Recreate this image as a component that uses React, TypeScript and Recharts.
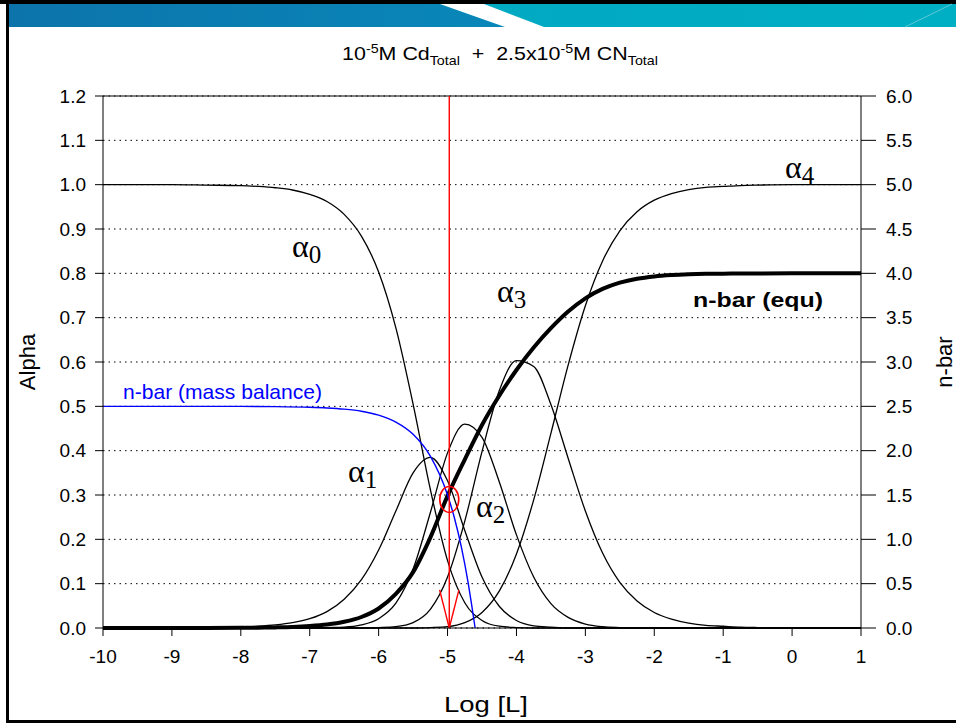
import React from "react";
import { LineChart, Line, XAxis, YAxis, CartesianGrid, ReferenceLine, ReferenceDot } from "recharts";

// log of free ligand concentration, shared by the alpha / n-bar (equ) series
const logL = [-10, -9.5, -9, -8.5, -8, -7.75, -7.5, -7.25, -7, -6.75, -6.5, -6.25, -6, -5.75, -5.5, -5.25, -5, -4.75, -4.5, -4.25, -4, -3.75, -3.5, -3.25, -3, -2.75, -2.5, -2.25, -2, -1.75, -1.5, -1.25, -1, -0.75, -0.5, 0, 0.5, 1];

const alpha0 = [1, 1, 1, 0.999, 0.998, 0.996, 0.993, 0.988, 0.978, 0.962, 0.933, 0.884, 0.803, 0.677, 0.505, 0.313, 0.152, 0.057, 0.017, 0.004, 0.001, 0, 0, 0, 0, 0, 0, 0, 0, 0, 0, 0, 0, 0, 0, 0, 0, 0];
const alpha1 = [0, 0, 0, 0.001, 0.002, 0.004, 0.007, 0.012, 0.021, 0.037, 0.065, 0.109, 0.176, 0.264, 0.35, 0.385, 0.332, 0.22, 0.115, 0.049, 0.017, 0.005, 0.002, 0, 0, 0, 0, 0, 0, 0, 0, 0, 0, 0, 0, 0, 0, 0];
const alpha2 = [0, 0, 0, 0, 0, 0, 0, 0, 0, 0.001, 0.002, 0.007, 0.021, 0.056, 0.133, 0.26, 0.395, 0.46, 0.43, 0.33, 0.21, 0.115, 0.055, 0.024, 0.009, 0.003, 0.001, 0, 0, 0, 0, 0, 0, 0, 0, 0, 0, 0];
const alpha3 = [0, 0, 0, 0, 0, 0, 0, 0, 0, 0, 0, 0, 0.001, 0.003, 0.012, 0.042, 0.115, 0.241, 0.398, 0.535, 0.603, 0.59, 0.504, 0.383, 0.264, 0.169, 0.103, 0.061, 0.035, 0.02, 0.011, 0.006, 0.004, 0.002, 0.001, 0, 0, 0];
const alpha4 = [0, 0, 0, 0, 0, 0, 0, 0, 0, 0, 0, 0, 0, 0, 0, 0.001, 0.003, 0.012, 0.035, 0.083, 0.167, 0.289, 0.439, 0.593, 0.727, 0.828, 0.896, 0.939, 0.965, 0.98, 0.989, 0.994, 0.996, 0.998, 0.999, 1, 1, 1];
const nbarEqu = [0, 0, 0, 0.001, 0.002, 0.004, 0.007, 0.012, 0.022, 0.039, 0.07, 0.124, 0.22, 0.385, 0.63, 1.02, 1.49, 1.9, 2.29, 2.62, 2.91, 3.163, 3.381, 3.569, 3.718, 3.824, 3.895, 3.939, 3.965, 3.98, 3.989, 3.994, 3.996, 3.998, 3.999, 4, 4, 4];

// n-bar from the mass balance, ends where it reaches zero
const mbLogL = [-10, -9, -8, -7.5, -7, -6.75, -6.5, -6.25, -6, -5.75, -5.5, -5.25, -5, -4.9, -4.8, -4.7, -4.65, -4.6];
const nbarMassBalance = [2.5, 2.5, 2.499, 2.497, 2.49, 2.482, 2.468, 2.444, 2.4, 2.322, 2.184, 1.938, 1.5, 1.241, 0.915, 0.505, 0.261, 0];

const xTicks = [-10, -9, -8, -7, -6, -5, -4, -3, -2, -1, 0, 1];
const alphaTicks = [0, 0.1, 0.2, 0.3, 0.4, 0.5, 0.6, 0.7, 0.8, 0.9, 1.0, 1.1, 1.2];
const nbarTicks = [0, 0.5, 1, 1.5, 2, 2.5, 3, 3.5, 4, 4.5, 5, 5.5, 6];

// the marked intersection (red line, circle, arrow)
const markLogL = -4.975;
const markAlpha = 0.29;

const rows = logL.map((x, i) => ({
  x,
  a0: alpha0[i],
  a1: alpha1[i],
  a2: alpha2[i],
  a3: alpha3[i],
  a4: alpha4[i],
  nEq: nbarEqu[i],
}));
const mbRows = mbLogL.map((x, i) => ({ x, nMb: nbarMassBalance[i] }));

const SANS = "'Liberation Sans', Arial, sans-serif";
const SERIF = "'Liberation Serif', 'Times New Roman', serif";
const tickStyle = { fill: "#000", fontSize: 19, fontFamily: SANS };

const Ellipse = (props: any) => (
  <ellipse cx={props.cx} cy={props.cy} rx={9.5} ry={13} fill="none" stroke="#ff0000" strokeWidth={1.6} />
);

function AlphaLabel({ x, y, sub }: { x: number; y: number; sub: string }) {
  return (
    <text x={x} y={y} fontFamily={SERIF} fontSize={32} fill="#000">
      α<tspan dy={6} fontSize={25}>{sub}</tspan>
    </text>
  );
}

export default function App() {
  return (
    <div style={{ position: "absolute", left: 0, top: 0, width: 956, height: 723, background: "#fff", overflow: "hidden" }}>
      <LineChart width={956} height={723} data={rows} margin={{ top: 96, right: 35, bottom: 65, left: 43 }}>
        <CartesianGrid vertical={false} stroke="#000" strokeDasharray="1.5 4" />
        <XAxis
          type="number"
          dataKey="x"
          domain={[-10, 1]}
          ticks={xTicks}
          allowDataOverflow
          height={30}
          tickSize={8}
          tickMargin={14}
          tick={tickStyle}
          axisLine={{ stroke: "#000" }}
          tickLine={{ stroke: "#000" }}
        />
        <YAxis
          domain={[0, 1.2]}
          ticks={alphaTicks}
          width={60}
          tickSize={8}
          tickMargin={9}
          tick={tickStyle}
          tickFormatter={(v: number) => v.toFixed(1)}
          axisLine={{ stroke: "#000" }}
          tickLine={{ stroke: "#000" }}
        />
        <YAxis
          yAxisId="right"
          orientation="right"
          domain={[0, 6]}
          ticks={nbarTicks}
          width={60}
          tickSize={15}
          tickMargin={10}
          tick={tickStyle}
          tickFormatter={(v: number) => v.toFixed(1)}
          axisLine={{ stroke: "#000" }}
          tickLine={{ stroke: "#000" }}
        />
        <ReferenceLine y={1.2} stroke="#000" strokeWidth={1.2} />
        <Line type="monotone" dataKey="a0" stroke="#000" strokeWidth={1.3} dot={false} activeDot={false} isAnimationActive={false} />
        <Line type="monotone" dataKey="a1" stroke="#000" strokeWidth={1.3} dot={false} activeDot={false} isAnimationActive={false} />
        <Line type="monotone" dataKey="a2" stroke="#000" strokeWidth={1.3} dot={false} activeDot={false} isAnimationActive={false} />
        <Line type="monotone" dataKey="a3" stroke="#000" strokeWidth={1.3} dot={false} activeDot={false} isAnimationActive={false} />
        <Line type="monotone" dataKey="a4" stroke="#000" strokeWidth={1.3} dot={false} activeDot={false} isAnimationActive={false} />
        <Line yAxisId="right" type="monotone" dataKey="nEq" stroke="#000" strokeWidth={4} dot={false} activeDot={false} isAnimationActive={false} />
        <Line yAxisId="right" data={mbRows} type="monotone" dataKey="nMb" stroke="#0000ff" strokeWidth={1.4} dot={false} activeDot={false} isAnimationActive={false} />
        <ReferenceLine x={markLogL} stroke="#ff0000" strokeWidth={1.4} />
        <ReferenceLine segment={[{ x: markLogL - 0.14, y: 0.086 }, { x: markLogL, y: 0 }]} stroke="#ff0000" strokeWidth={1.4} />
        <ReferenceLine segment={[{ x: markLogL + 0.14, y: 0.086 }, { x: markLogL, y: 0 }]} stroke="#ff0000" strokeWidth={1.4} />
        <ReferenceDot x={markLogL} y={markAlpha} r={10} shape={Ellipse} />
      </LineChart>

      <svg width={956} height={723} style={{ position: "absolute", left: 0, top: 0, pointerEvents: "none" }}>
        <defs>
          <linearGradient id="bandL" x1="0" x2="1" y1="0" y2="0">
            <stop offset="0" stopColor="#0c74ab" />
            <stop offset="1" stopColor="#0987b8" />
          </linearGradient>
          <linearGradient id="bandR" x1="0" x2="1" y1="0" y2="0">
            <stop offset="0" stopColor="#04a3c0" />
            <stop offset="1" stopColor="#00afc4" />
          </linearGradient>
        </defs>
        {/* slide frame and header band */}
        <rect x={0} y={0} width={956} height={4} fill="#000" />
        <rect x={9} y={4} width={947} height={23} fill="url(#bandR)" />
        <polygon points="9,4 440,4 505,27 9,27" fill="url(#bandL)" />
        <polygon points="440,4 484,4 544,27 505,27" fill="#fff" />
        <line x1={905} y1={27} x2={952} y2={4} stroke="#5cc8d6" strokeWidth={1} />
        <rect x={6} y={0} width={3} height={723} fill="#000" />
        <rect x={6} y={720} width={950} height={3} fill="#000" />

        <g transform="translate(500,60) scale(1.19,1)">
          <text x={0} y={0} textAnchor="middle" fontFamily={SANS} fontSize={18} fill="#000">
            10<tspan fontSize={12} dy={-7}>-5</tspan>
            <tspan dy={7}>M Cd</tspan>
            <tspan fontSize={12} dy={5}>Total</tspan>
            <tspan dy={-5}>{"\u00a0 +\u00a0 2.5x10"}</tspan>
            <tspan fontSize={12} dy={-7}>-5</tspan>
            <tspan dy={7}>M CN</tspan>
            <tspan fontSize={12} dy={5}>Total</tspan>
          </text>
        </g>

        <text transform="translate(35,362) rotate(-90)" textAnchor="middle" fontFamily={SANS} fontSize={22} fill="#000">Alpha</text>
        <text transform="translate(952,362) rotate(-90)" textAnchor="middle" fontFamily={SANS} fontSize={22} fill="#000">n-bar</text>
        <text x={486} y={712} textAnchor="middle" fontFamily={SANS} fontSize={22} fill="#000" textLength={84} lengthAdjust="spacingAndGlyphs">Log [L]</text>

        <AlphaLabel x={292} y={257} sub="0" />
        <AlphaLabel x={348} y={482} sub="1" />
        <AlphaLabel x={476} y={517} sub="2" />
        <AlphaLabel x={497} y={302} sub="3" />
        <AlphaLabel x={785} y={178} sub="4" />

        <text x={693} y={307} fontFamily={SANS} fontSize={20} fontWeight="bold" fill="#000" textLength={130} lengthAdjust="spacingAndGlyphs">n-bar (equ)</text>
        <text x={123} y={399} fontFamily={SANS} fontSize={21} fill="#0000ff" textLength={199} lengthAdjust="spacingAndGlyphs">n-bar (mass balance)</text>
      </svg>
    </div>
  );
}
